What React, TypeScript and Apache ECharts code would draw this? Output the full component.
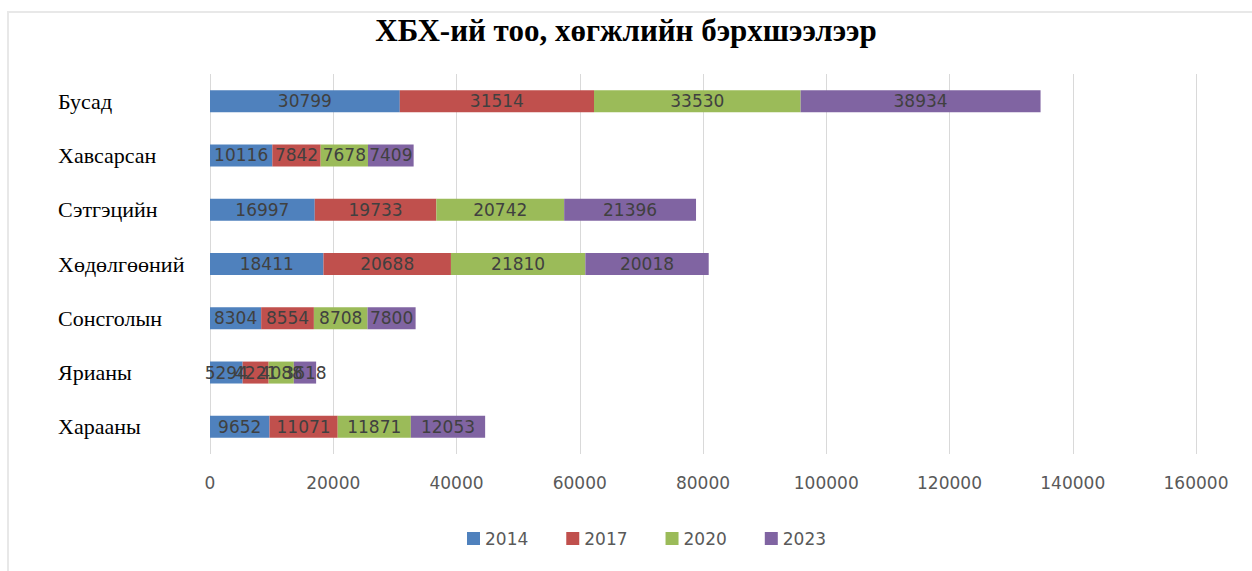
import React, { useEffect, useRef } from "react";
import * as echarts from "echarts";

const categories = ["Харааны", "Ярианы", "Сонсголын", "Хөдөлгөөний", "Сэтгэцийн", "Хавсарсан", "Бусад"];
const years = ["2014", "2017", "2020", "2023"];
const values2014 = [9652, 5294, 8304, 18411, 16997, 10116, 30799];
const values2017 = [11071, 4221, 8554, 20688, 19733, 7842, 31514];
const values2020 = [11871, 4088, 8708, 21810, 20742, 7678, 33530];
const values2023 = [12053, 3618, 7800, 20018, 21396, 7409, 38934];
const colors = ["#4F81BD", "#C0504D", "#9BBB59", "#8064A2"];
const titleText = "ХБХ-ий тоо, хөгжлийн бэрхшээлээр";

export default function App() {
  const ref = useRef<HTMLDivElement>(null);
  useEffect(() => {
    if (!ref.current) return;
    const chart = echarts.init(ref.current, null, { renderer: "svg" });
    const seriesData = [values2014, values2017, values2020, values2023];
    chart.setOption({
      animation: false,
      backgroundColor: "#ffffff",
      title: {
        text: titleText,
        left: "center",
        top: 10,
        textStyle: {
          fontFamily: "Liberation Serif",
          fontWeight: "bold",
          fontSize: 31,
          color: "#000000",
        },
      },
      graphic: [
        {
          type: "rect",
          shape: { x: 8, y: 12, width: 1300, height: 600 },
          style: { fill: "none", stroke: "#e8e8e8", lineWidth: 2 },
          silent: true,
        },
      ],
      legend: {
        data: years,
        bottom: 19,
        left: 462,
        itemWidth: 13,
        itemHeight: 13,
        itemGap: 38,
        icon: "rect",
        textStyle: { fontFamily: "DejaVu Sans", fontSize: 17, color: "#595959" },
      },
      grid: { left: 210, right: 56, top: 74, bottom: 117, containLabel: false },
      xAxis: {
        type: "value",
        min: 0,
        max: 160000,
        interval: 20000,
        axisLine: { show: false },
        axisTick: { show: false },
        splitLine: { lineStyle: { color: "#d9d9d9" } },
        axisLabel: {
          fontFamily: "DejaVu Sans",
          fontSize: 17,
          color: "#595959",
          margin: 20,
          formatter: (v: number) => String(v),
        },
      },
      yAxis: {
        type: "category",
        data: categories,
        axisLine: { show: false },
        axisTick: { show: false },
        axisLabel: {
          fontFamily: "Liberation Serif",
          fontSize: 22,
          color: "#000000",
          align: "left",
          margin: 152,
        },
      },
      series: years.map((y, i) => ({
        name: y,
        type: "bar",
        stack: "total",
        barWidth: 22,
        data: seriesData[i],
        itemStyle: { color: colors[i] },
        label: {
          show: true,
          position: "inside",
          fontFamily: "DejaVu Sans",
          fontSize: 17,
          color: "#404040",
        },
      })),
    });
    return () => chart.dispose();
  }, []);
  return <div ref={ref} style={{ position: "absolute", left: 0, top: 0, width: 1252, height: 571 }} />;
}
